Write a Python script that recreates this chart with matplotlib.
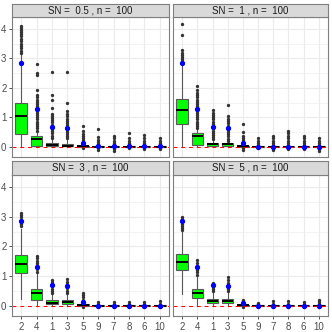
import matplotlib
matplotlib.use("Agg")
import matplotlib.pyplot as plt

plt.rcParams['font.family'] = ['Liberation Sans', 'DejaVu Sans']

# estimator labels on the x axis, in plotted order
categories = ["2", "4", "1", "3", "5", "9", "7", "8", "6", "10"]
sn_levels = [0.5, 1, 3, 5]
n_obs = 100

# box statistics, one list per SN level
whis_lo = {
    0.5: [0.0, 0.0, 0.0, 0.0, -0.03, -0.03, -0.03, -0.03, -0.03, -0.03],
    1:   [0.0, 0.0, 0.0, 0.0, -0.03, -0.03, -0.03, -0.03, -0.03, -0.03],
    3:   [0.23, 0.0, 0.0, 0.0, -0.03, -0.02, -0.02, -0.02, -0.02, -0.02],
    5:   [0.40, 0.0, 0.0, 0.0, -0.03, -0.02, -0.02, -0.02, -0.02, -0.02],
}
q1 = {
    0.5: [0.43, 0.02, 0.01, 0.01, 0.0, -0.01, -0.01, -0.01, -0.01, -0.01],
    1:   [0.78, 0.07, 0.01, 0.01, 0.0, -0.01, -0.01, -0.01, -0.01, -0.01],
    3:   [1.11, 0.19, 0.05, 0.05, 0.0, -0.01, -0.01, -0.01, -0.01, -0.01],
    5:   [1.19, 0.25, 0.08, 0.08, 0.0, -0.01, -0.01, -0.01, -0.01, -0.01],
}
median = {
    0.5: [1.05, 0.27, 0.05, 0.03, 0.01, 0.0, 0.0, 0.0, 0.0, 0.0],
    1:   [1.25, 0.35, 0.10, 0.09, 0.01, 0.0, 0.0, 0.0, 0.0, 0.0],
    3:   [1.41, 0.41, 0.10, 0.11, 0.01, 0.0, 0.0, 0.0, 0.0, 0.0],
    5:   [1.47, 0.43, 0.15, 0.14, 0.01, 0.0, 0.0, 0.0, 0.0, 0.0],
}
q3 = {
    0.5: [1.50, 0.35, 0.13, 0.10, 0.03, 0.01, 0.01, 0.01, 0.01, 0.01],
    1:   [1.63, 0.46, 0.12, 0.12, 0.03, 0.01, 0.01, 0.01, 0.01, 0.01],
    3:   [1.72, 0.57, 0.19, 0.20, 0.04, 0.01, 0.01, 0.01, 0.01, 0.01],
    5:   [1.75, 0.57, 0.23, 0.22, 0.03, 0.01, 0.01, 0.01, 0.01, 0.01],
}
whis_hi = {
    0.5: [3.15, 0.50, 0.26, 0.24, 0.06, 0.03, 0.03, 0.03, 0.03, 0.03],
    1:   [2.85, 0.58, 0.22, 0.18, 0.06, 0.03, 0.03, 0.03, 0.03, 0.03],
    3:   [2.60, 1.10, 0.38, 0.40, 0.09, 0.03, 0.03, 0.03, 0.03, 0.03],
    5:   [2.48, 1.00, 0.45, 0.45, 0.06, 0.03, 0.03, 0.03, 0.03, 0.03],
}
means = {
    0.5: [2.84, 1.29, 0.67, 0.64, 0.13, 0.01, 0.02, 0.01, 0.01, 0.01],
    1:   [2.84, 1.28, 0.67, 0.65, 0.13, 0.0, 0.0, 0.0, 0.0, 0.0],
    3:   [2.85, 1.30, 0.69, 0.66, 0.13, 0.0, 0.0, 0.0, 0.0, 0.0],
    5:   [2.86, 1.29, 0.68, 0.66, 0.10, 0.0, 0.0, 0.0, 0.0, 0.0],
}
outliers = {
    0.5: [
        [3.2, 3.27, 3.35, 3.42, 3.5, 3.58, 3.66, 3.75, 3.83, 3.9, 3.98, 4.05, 4.1],
        [0.55, 0.62, 0.7, 0.78, 0.85, 0.93, 1.0, 1.08, 1.15, 1.23, 1.3, 1.38,
         1.45, 1.52, 1.6, 1.68, 1.75, 1.93, 2.45, 2.5, 2.82],
        [0.3, 0.37, 0.45, 0.52, 0.6, 0.68, 0.75, 0.83, 0.9, 0.98, 1.05, 1.12,
         1.3, 1.6, 1.75, 2.55],
        [0.28, 0.35, 0.43, 0.5, 0.58, 0.66, 0.73, 0.8, 0.88, 0.95, 1.03, 1.1,
         1.2, 1.5, 2.55],
        [-0.06, 0.08, 0.15, 0.22, 0.3, 0.37, 0.44, 0.52, 0.69],
        [-0.1, -0.05, 0.05, 0.1, 0.17, 0.24, 0.32, 0.59],
        [-0.15, -0.08, 0.05, 0.12, 0.2, 0.28, 0.35],
        [-0.06, 0.05, 0.12, 0.2, 0.28, 0.48],
        [-0.07, 0.05, 0.12, 0.2, 0.28, 0.4],
        [-0.07, 0.05, 0.12, 0.2, 0.28],
    ],
    1: [
        [2.9, 2.97, 3.05, 3.12, 3.2, 3.3, 3.79, 4.17],
        [0.62, 0.7, 0.78, 0.85, 0.93, 1.0, 1.08, 1.15, 1.23, 1.3, 1.38, 1.45,
         1.52, 1.6, 1.68, 1.75, 1.83, 1.93, 2.07],
        [0.25, 0.32, 0.4, 0.47, 0.55, 0.62, 0.7, 0.78, 0.85, 0.93, 1.0, 1.08,
         1.15, 1.25],
        [0.2, 0.27, 0.35, 0.42, 0.5, 0.58, 0.65, 0.72, 0.8, 0.88, 0.95, 1.05, 1.42],
        [-0.1, -0.05, 0.08, 0.15, 0.22, 0.3, 0.36, 0.5, 0.77],
        [-0.05, 0.05, 0.12, 0.2, 0.28],
        [-0.12, -0.06, 0.05, 0.12, 0.2, 0.28, 0.35],
        [-0.08, 0.05, 0.12, 0.2, 0.28, 0.35, 0.45, 0.54],
        [-0.08, 0.05, 0.12, 0.2, 0.28, 0.35],
        [-0.15, -0.08, 0.05, 0.12, 0.2, 0.28],
    ],
    3: [
        [2.68, 2.75, 2.82, 2.9, 2.98, 3.05, 3.12],
        [1.15, 1.22, 1.3, 1.37, 1.45, 1.52, 1.6, 1.66],
        [0.42, 0.5, 0.57, 0.65, 0.72, 0.8, 0.88],
        [0.43, 0.5, 0.58, 0.65, 0.72, 0.8, 0.9],
        [-0.05, 0.12, 0.2, 0.28, 0.35, 0.42],
        [-0.04, 0.06, 0.13],
        [-0.04, 0.05, 0.11],
        [-0.04, 0.06, 0.13],
        [-0.04, 0.05, 0.11],
        [-0.04, 0.06, 0.15],
    ],
    5: [
        [2.55, 2.62, 2.7, 2.77, 2.85, 2.92, 3.0],
        [1.05, 1.12, 1.2, 1.28, 1.35, 1.43, 1.53],
        [0.48, 0.55, 0.62, 0.7, 0.78],
        [0.48, 0.55, 0.62, 0.7, 0.78, 0.85, 0.96],
        [-0.05, 0.1, 0.16, 0.2],
        [-0.03, 0.05, 0.1],
        [-0.03, 0.06, 0.14],
        [-0.03, 0.06, 0.14],
        [-0.03, 0.05, 0.12],
        [-0.04, 0.06, 0.13, 0.2],
    ],
}

W = H = 332
fig = plt.figure(figsize=(W / 100, H / 100), dpi=100)

# panel boxes in pixels: (left, right, strip top, panel top, panel bottom)
cols = [(12, 169), (173, 328)]
rows = [(4, 17, 157), (161, 175, 316)]

border = "#7f7f7f"
tick_col = "#4d4d4d"

for i, sn in enumerate(sn_levels):
    r, c = divmod(i, 2)
    x0, x1 = cols[c]
    s0, p0, p1 = rows[r]
    ax = fig.add_axes([x0 / W, 1 - p1 / H, (x1 - x0) / W, (p1 - p0) / H])
    st = fig.add_axes([x0 / W, 1 - p0 / H, (x1 - x0) / W, (p0 - s0) / H])

    stats = []
    for k in range(len(categories)):
        stats.append(dict(whislo=whis_lo[sn][k], q1=q1[sn][k], med=median[sn][k],
                          q3=q3[sn][k], whishi=whis_hi[sn][k],
                          mean=means[sn][k], fliers=outliers[sn][k]))
    ax.bxp(stats, positions=range(1, len(categories) + 1), widths=0.75,
           patch_artist=True, showmeans=True, showcaps=False,
           boxprops=dict(facecolor="#00ff00", edgecolor="#595959", linewidth=0.8),
           whiskerprops=dict(color="#595959", linewidth=0.8),
           medianprops=dict(color="black", linewidth=1.4),
           flierprops=dict(marker="o", markerfacecolor="#333333",
                           markeredgecolor="none", markersize=2.4),
           meanprops=dict(marker="o", markerfacecolor="blue",
                          markeredgecolor="blue", markersize=2.8),
           zorder=2)
    ax.axhline(0, color="red", linestyle=(0, (4, 4)), linewidth=0.7, zorder=2.5)
    for ln in ax.lines:
        if ln.get_marker() == "o" and ln.get_markerfacecolor() == "blue":
            ln.set_zorder(4)

    ax.set_xlim(0.4, len(categories) + 0.6)
    ax.set_ylim(-0.35, 4.41)
    ax.set_yticks([0, 1, 2, 3, 4])
    ax.set_yticks([0.5, 1.5, 2.5, 3.5], minor=True)
    ax.set_xticks(range(1, len(categories) + 1))
    ax.set_xticklabels(categories)
    ax.grid(True, which="major", color="#ebebeb", linewidth=0.8, zorder=0)
    ax.grid(True, which="minor", axis="y", color="#ebebeb", linewidth=0.4, zorder=0)
    ax.set_axisbelow(True)
    for sp in ax.spines.values():
        sp.set_color(border)
        sp.set_linewidth(0.8)
    ax.tick_params(which="minor", length=0)
    ax.tick_params(which="major", length=2.5, width=0.6, color="#333333",
                   labelsize=7, labelcolor=tick_col, pad=1.5)
    if r == 0:
        ax.tick_params(axis="x", length=0, labelbottom=False)
    if c == 1:
        ax.tick_params(axis="y", length=0, labelleft=False)

    st.set_facecolor("#d9d9d9")
    st.set_xticks([])
    st.set_yticks([])
    for sp in st.spines.values():
        sp.set_color(border)
        sp.set_linewidth(0.8)
    st.text(0.5, 0.5, f"SN =  {sn} , n =  {n_obs}", ha="center", va="center",
            fontsize=7, color="#1a1a1a", transform=st.transAxes)

fig.savefig("out.png", dpi=100)
